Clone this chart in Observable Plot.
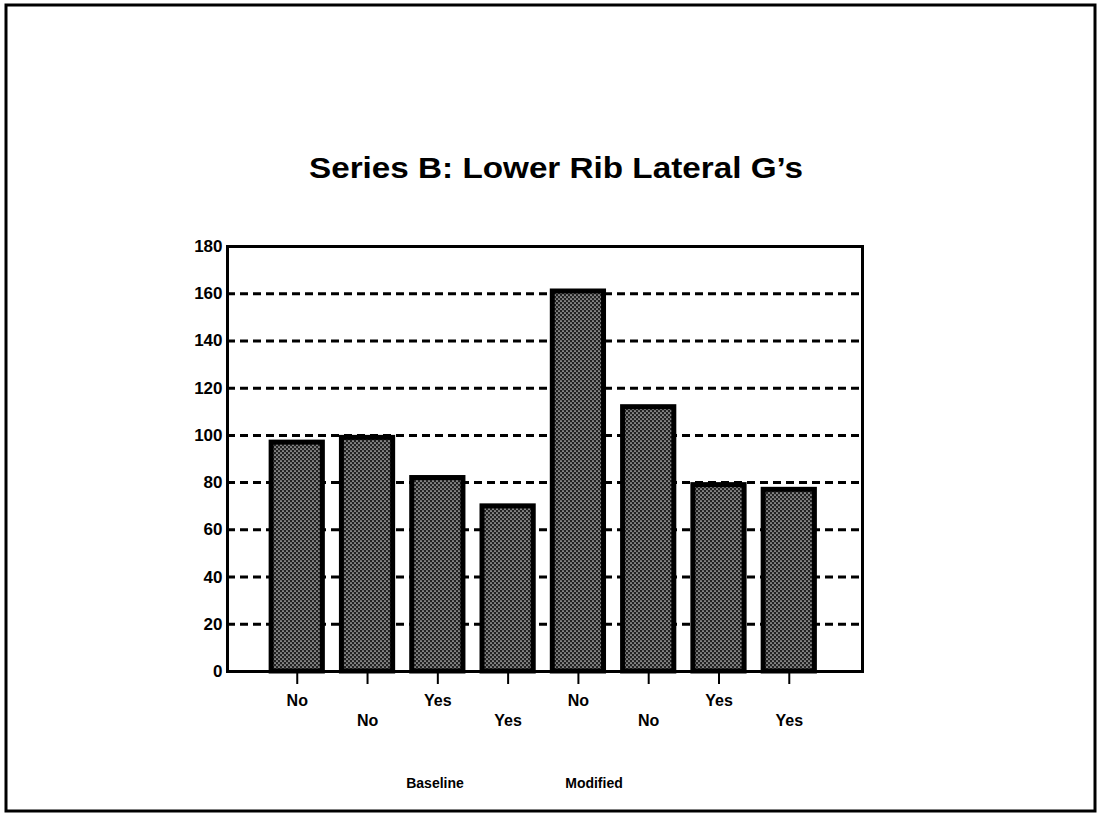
<!DOCTYPE html>
<html>
<head>
<meta charset="utf-8">
<script src="https://cdn.jsdelivr.net/npm/d3@7"></script>
<script src="https://cdn.jsdelivr.net/npm/@observablehq/plot@0.6"></script>
<style>
  html, body { margin: 0; padding: 0; background: #fff; }
  #chart { position: relative; width: 1099px; height: 816px; }
  svg { font-family: "Liberation Sans", Arial, Helvetica, sans-serif; }
</style>
</head>
<body>
<div id="chart"></div>
<script>
// Lower rib lateral acceleration (G's), Series B tests
const ids = ["b1", "b2", "b3", "b4", "m1", "m2", "m3", "m4"];
const labels = ["No", "No", "Yes", "Yes", "No", "No", "Yes", "Yes"];
const values = [98, 100, 83, 71, 162, 113, 80, 78];
const yTicks = [0, 20, 40, 60, 80, 100, 120, 140, 160, 180];
const gridValues = [20, 40, 60, 80, 100, 120, 140, 160];
const groups = ["Baseline", "Modified"];
const title = "Series B: Lower Rib Lateral G\u2019s";

const data = ids.map((id, i) => ({id, label: labels[i], value: values[i]}));
const labelOf = new Map(ids.map((id, i) => [id, labels[i]]));
const upper = ids.filter((d, i) => i % 2 === 0);
const lower = ids.filter((d, i) => i % 2 === 1);

const W = 1099, H = 816;

const chart = Plot.plot({
  width: W,
  height: H,
  marginLeft: 227,
  marginRight: 237,
  marginTop: 246,
  marginBottom: 145,
  style: {fontFamily: "Liberation Sans, Arial, sans-serif", background: "#fff", overflow: "visible"},
  x: {domain: ids, paddingInner: 0.2, paddingOuter: 0.617, align: 0.48, round: false, axis: null},
  y: {domain: [0, 180], axis: null},
  marks: [
    Plot.ruleY(gridValues, {stroke: "#000", strokeWidth: 3, strokeDasharray: "8,5"}),
    Plot.barY(data, {
      x: "id", y: "value",
      fill: "url(#stipple)", stroke: "#000", strokeWidth: 5,
      insetLeft: 2.5, insetRight: 2.5, insetTop: 2.5, insetBottom: 0
    }),
    Plot.frame({stroke: "#000", strokeWidth: 3}),
    Plot.axisY(yTicks, {
      tickSize: 0, tickPadding: 5, fontSize: 17, fontWeight: "bold",
      label: null, color: "#000"
    }),
    Plot.axisX(upper, {
      tickSize: 13, tickPadding: 10, fontSize: 16, fontWeight: "bold",
      strokeWidth: 2, tickFormat: d => labelOf.get(d), label: null, color: "#000"
    }),
    Plot.axisX(lower, {
      tickSize: 13, tickPadding: 30, fontSize: 16, fontWeight: "bold",
      strokeWidth: 2, tickFormat: d => labelOf.get(d), label: null, color: "#000"
    })
  ]
});

const svg = d3.select(chart);

// stippled fill for the bars
const pat = svg.insert("defs", ":first-child")
  .append("pattern")
  .attr("id", "stipple")
  .attr("patternUnits", "userSpaceOnUse")
  .attr("width", 4).attr("height", 4);
pat.append("rect").attr("width", 4).attr("height", 4).attr("fill", "#222");
pat.append("circle").attr("cx", 1).attr("cy", 1).attr("r", 0.85).attr("fill", "#d0d0d0");
pat.append("circle").attr("cx", 3).attr("cy", 3).attr("r", 0.85).attr("fill", "#d0d0d0");

// outer border
svg.append("rect")
  .attr("x", 6).attr("y", 5).attr("width", 1089).attr("height", 806)
  .attr("fill", "none").attr("stroke", "#000").attr("stroke-width", 3);

// title
svg.append("text")
  .attr("x", 556).attr("y", 178)
  .attr("text-anchor", "middle")
  .attr("font-size", 30).attr("font-weight", "bold").attr("fill", "#000")
  .attr("textLength", 494).attr("lengthAdjust", "spacingAndGlyphs")
  .text(title);

// group captions under the categories
const groupX = [435, 594];
groups.forEach((g, i) => {
  svg.append("text")
    .attr("x", groupX[i]).attr("y", 788)
    .attr("text-anchor", "middle")
    .attr("font-size", 14).attr("font-weight", "bold").attr("fill", "#000")
    .text(g);
});

document.getElementById("chart").appendChild(chart);
</script>
</body>
</html>
